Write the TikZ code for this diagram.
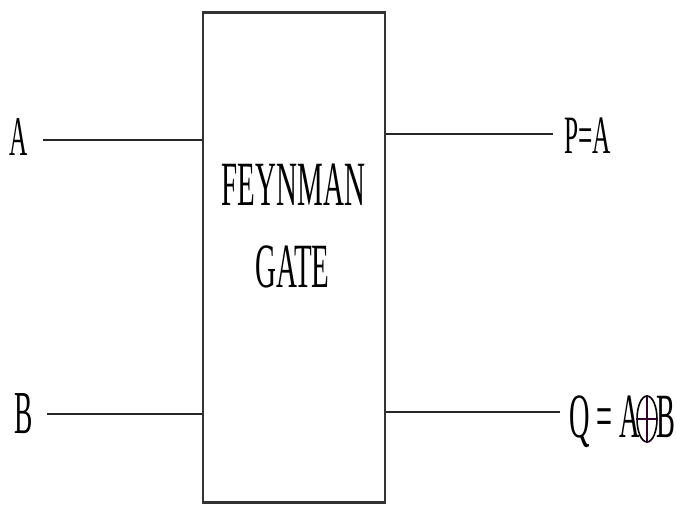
\documentclass[tikz,border=0pt]{standalone}
\usepackage{fontspec}
\setmainfont{Liberation Serif}
\usepackage{graphicx}
\usetikzlibrary{shapes.geometric}
\newcommand{\squash}[1]{\scalebox{0.45}[1]{#1}}
\begin{document}
\begin{tikzpicture}[x=1pt,y=-1pt,
  wire/.style={line width=2pt,draw=black!85},
  lbl/.style={inner sep=0pt,anchor=base,font=\fontsize{60}{66}\selectfont},
  gatebox/.style={draw=black!80,line width=2.5pt,minimum width=182pt,minimum height=490pt,inner sep=0pt}]
\useasboundingbox (0,0) rectangle (677,507);
\node[gatebox] (gate) at (293.75,257.5) {};
\node[lbl,font=\fontsize{63}{70}\selectfont] (t1) at (293.5,205) {\scalebox{0.46}[1]{FEYNMAN}};
\node[lbl,font=\fontsize{63}{70}\selectfont] (t2) at (292.5,287) {\scalebox{0.46}[1]{GATE}};
\node[lbl,font=\fontsize{56}{62}\selectfont] (a) at (19,155) {\squash{A}};
\node[lbl,font=\fontsize{61}{66}\selectfont] (b) at (23.5,433) {\squash{B}};
\node[lbl,anchor=base west,font=\fontsize{54}{60}\selectfont] (p) at (564,153) {\scalebox{0.47}[1]{P=A}};
\node[lbl,anchor=base west,font=\fontsize{63}{70}\selectfont] (q) at (569,437) {\scalebox{0.45}[1]{Q = A}};
\node[draw=black,line width=1.6pt,ellipse,minimum width=20pt,minimum height=46pt,inner sep=0pt] (x) at (647,419) {};
\draw[line width=1.3pt,draw=black!60!violet] (x.north) -- (x.south);
\draw[line width=1.3pt,draw=black!60!violet] (x.west) -- (x.east);
\node[lbl,anchor=base west,font=\fontsize{63}{70}\selectfont] (q2) at (656,437) {\scalebox{0.45}[1]{B}};
\coordinate (a0) at (43,140);
\coordinate (b0) at (47,414);
\coordinate (p0) at (553,134);
\coordinate (q0) at (560,412);
\draw[wire] (a0) -- (a0 -| gate.west);
\draw[wire] (b0) -- (b0 -| gate.west);
\draw[wire] (p0 -| gate.east) -- (p0);
\draw[wire] (q0 -| gate.east) -- (q0);
\end{tikzpicture}
\end{document}
